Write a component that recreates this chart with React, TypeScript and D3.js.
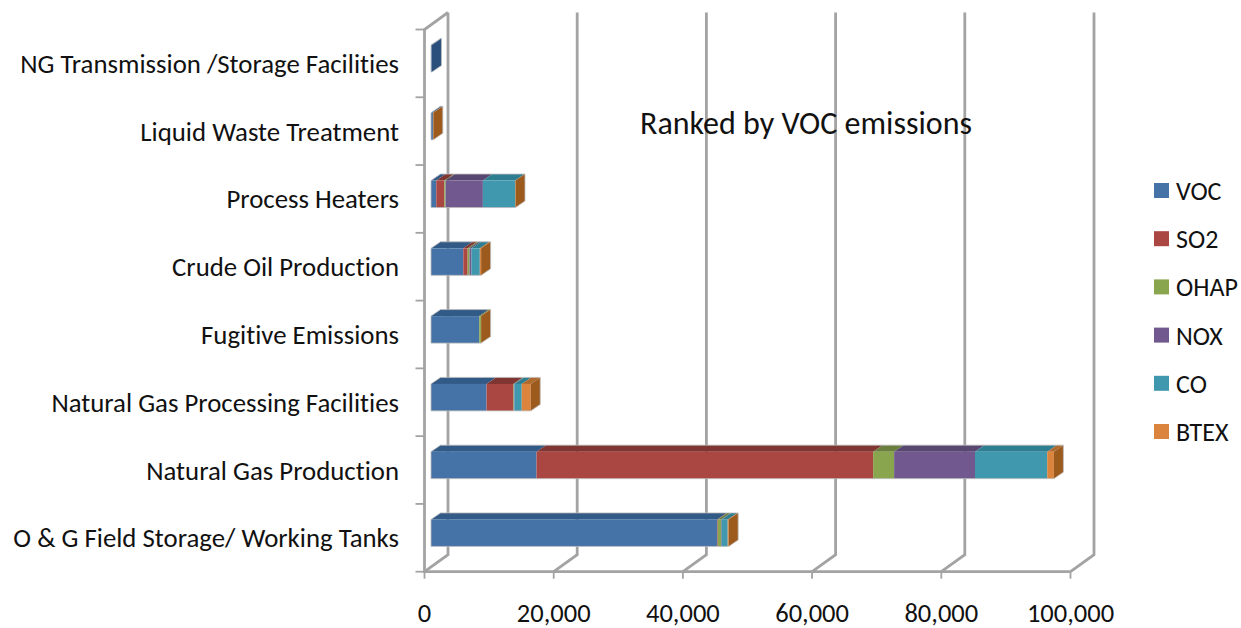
import React from "react";
import * as d3 from "d3";

const categories = [
  "NG Transmission /Storage Facilities",
  "Liquid Waste Treatment",
  "Process Heaters",
  "Crude Oil Production",
  "Fugitive Emissions",
  "Natural Gas Processing Facilities",
  "Natural Gas Production",
  "O & G Field Storage/ Working Tanks",
];
const seriesNames = ["VOC", "SO2", "OHAP", "NOX", "CO", "BTEX"];
const VOC = [150, 300, 820, 5000, 7470, 8600, 16340, 44300];
const SO2 = [0, 0, 1240, 670, 0, 4120, 52100, 100];
const OHAP = [0, 0, 200, 300, 260, 100, 3250, 500];
const NOX = [0, 0, 5770, 300, 0, 100, 12520, 100];
const CO = [0, 0, 5000, 1290, 0, 1130, 11180, 930];
const BTEX = [0, 60, 50, 200, 30, 1390, 1030, 150];
const seriesValues = [VOC, SO2, OHAP, NOX, CO, BTEX];
const frontColors = ["#4573A7", "#AA4643", "#89A54E", "#71588F", "#4198AF", "#DB843D"];
const topColors = ["#335A86", "#7F3432", "#6B7F3D", "#59466F", "#2F7E92", "#B06A2E"];
const sideColors = ["#2A4F7C", "#7F3432", "#6B7F3D", "#59466F", "#2F7E92", "#9C5A1F"];
const xTicks = [0, 20000, 40000, 60000, 80000, 100000];
const title = "Ranked by VOC emissions";

const FONT = "Carlito, Calibri, Lato, sans-serif";
const GRID = "#A3A3A3";

export default function App() {
  const x = d3.scaleLinear().domain([0, 100000]).range([424.5, 1070.5]);
  const y = d3.scaleBand().domain(categories).range([29.5, 571.7]);
  const wallDx = 23.5;
  const wallDy = -17;
  const barInset = 6.5;
  const barTop = 15.5;
  const barH = 27;
  const depthX = 9.5;
  const depthY = -6.5;
  const bw = y.bandwidth();
  const rows = categories.map((c, i) => {
    const o: Record<string, number | string> = { c };
    seriesNames.forEach((s, k) => (o[s] = seriesValues[k][i]));
    return o;
  });
  const stacked = d3.stack().keys(seriesNames)(rows as any);
  const yEdges = categories.map((c) => y(c) as number).concat(571.7);
  const fmt = d3.format(",");
  const top = 29.5;
  const bottom = 571.7;

  return (
    <svg
      width={1241}
      height={628}
      style={{ position: "absolute", left: 0, top: 0, background: "#fff", fontVariantLigatures: "none" }}
      fontFamily={FONT}
    >
      <defs>
        <filter id="soft" x="-5%" y="-5%" width="110%" height="110%">
          <feGaussianBlur stdDeviation="0.45" />
        </filter>
      </defs>
      <g filter="url(#soft)">
        {xTicks.map((t) => (
          <path
            key={t}
            d={`M${x(t) + wallDx},${top + wallDy}V${bottom + wallDy}L${x(t)},${bottom}`}
            fill="none"
            stroke={GRID}
            strokeWidth={2.8}
          />
        ))}
        <path
          d={`M${x(0) + wallDx},${top + wallDy}L${x(0)},${top}V${bottom}H${x(100000)}`}
          fill="none"
          stroke={GRID}
          strokeWidth={2.8}
        />
        {yEdges.map((v, i) => (
          <line key={i} x1={x(0) - 9} x2={x(0)} y1={v} y2={v} stroke={GRID} strokeWidth={1.8} />
        ))}
        {xTicks.map((t) => (
          <line key={t} x1={x(t)} x2={x(t)} y1={bottom} y2={bottom + 7} stroke={GRID} strokeWidth={1.8} />
        ))}

        {categories.map((c) => {
          const i = categories.indexOf(c);
          const by = (y(c) as number) + barTop;
          const last = seriesNames.reduce((acc, _, k) => (seriesValues[k][i] > 0 ? k : acc), 0);
          const end = stacked[last][i][1];
          const xe = x(end) + barInset;
          return (
            <g key={c}>
              {stacked.map((s, k) => {
                const [a, b] = s[i];
                if (b <= a) return null;
                const xa = x(a) + barInset;
                const xb = x(b) + barInset;
                return (
                  <g key={k}>
                    <path
                      d={`M${xa},${by}L${xa + depthX},${by + depthY}H${xb + depthX}L${xb},${by}Z`}
                      fill={topColors[k]}
                    />
                    <rect x={xa} y={by} width={xb - xa} height={barH} fill={frontColors[k]} />
                  </g>
                );
              })}
              <path
                d={`M${xe},${by}L${xe + depthX},${by + depthY}V${by + depthY + barH}L${xe},${by + barH}Z`}
                fill={sideColors[last]}
              />
              <path
                d={`M${x(0) + barInset},${by}V${by + barH}H${xe}L${xe + depthX},${by + barH + depthY}V${by + depthY}H${x(0) + barInset + depthX}Z`}
                fill="none"
                stroke="#BDBDBD"
                strokeWidth={0.8}
              />
            </g>
          );
        })}

        {seriesNames.map((s, k) => (
          <rect key={s} x={1154} y={183 + k * 48.2} width={15} height={15} fill={frontColors[k]} />
        ))}
      </g>

      {categories.map((c) => (
        <text
          key={c}
          x={399}
          y={(y(c) as number) + bw / 2 + 9.5}
          textAnchor="end"
          fontSize={26.8}
          fill="#111"
        >
          {c}
        </text>
      ))}
      {xTicks.map((t) => (
        <text key={t} x={x(t)} y={621.5} textAnchor="middle" fontSize={26.5} fill="#111">
          {fmt(t)}
        </text>
      ))}
      <text x={640} y={134} fontSize={32} fill="#111">
        {title}
      </text>
      {seriesNames.map((s, k) => (
        <text key={s} x={1176} y={200 + k * 48.2} fontSize={26} fill="#111">
          {s}
        </text>
      ))}
    </svg>
  );
}
